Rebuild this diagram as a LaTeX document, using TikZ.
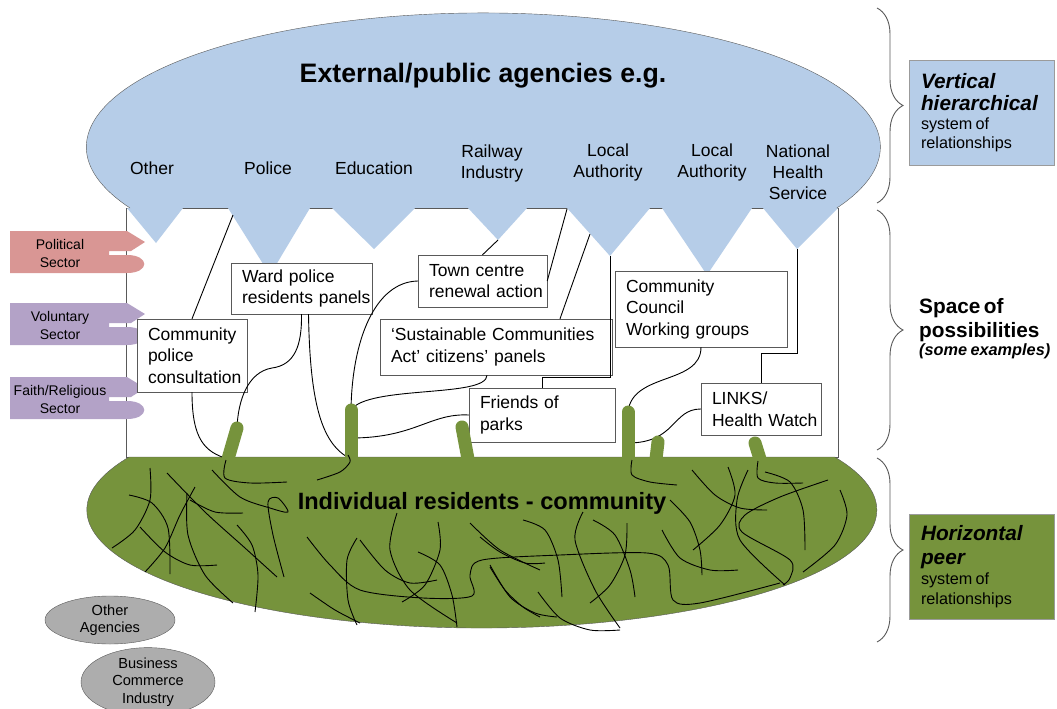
\documentclass[tikz,border=0pt]{standalone}
\usepackage{fontspec}
\setmainfont{Liberation Sans}
\usetikzlibrary{shapes.geometric}
\usetikzlibrary{decorations.pathreplacing}
\definecolor{agencyblue}{HTML}{B6CDE8}
\definecolor{peergreen}{HTML}{76933C}
\definecolor{politicalpink}{HTML}{D99694}
\definecolor{sectorlilac}{HTML}{B3A2C7}
\definecolor{othergrey}{HTML}{ADADAD}
\definecolor{edgegrey}{HTML}{595959}
\hyphenpenalty=10000
\exhyphenpenalty=10000
\hfuzz=50pt

\tikzset{
  panel/.style={draw=edgegrey, fill=white, align=left, inner xsep=11pt, inner ysep=0pt,
    font=\fontsize{17.5}{21.5}\selectfont},
  agency/.style={align=center, inner sep=0pt, font=\fontsize{17.5}{21}\selectfont},
  tagtext/.style={align=center, inner sep=0pt, font=\fontsize{14}{17.5}\selectfont},
  sidebox/.style={draw=edgegrey!60, text width=121pt, inner xsep=12pt, inner ysep=0pt,
    minimum height=105pt, align=left},
  link/.style={black, line width=0.9pt},
  stalk/.style={peergreen, line width=13pt, line cap=round},
  scribble/.style={black, line width=0.9pt},
  bracket/.style={draw=edgegrey, line width=0.9pt, decorate, decoration={brace, amplitude=26pt}},
  othernode/.style={ellipse, draw=edgegrey, fill=othergrey, inner sep=0pt, align=center,
    font=\fontsize{14.6}{17.5}\selectfont}
}

\begin{document}
\begin{tikzpicture}[x=1pt, y=-1pt]
  \useasboundingbox (0,0) rectangle (1057,709);

  % space of possibilities
  \draw[edgegrey, fill=white] (126,208) rectangle (838,457);

  % external agencies with their teeth
  \fill[agencyblue] (130,208) arc[start angle=152.9, end angle=387.1, x radius=397, y radius=134]
    -- (838,208) -- (797,249) -- (763,208) -- (752,208) -- (707,275) -- (662,208) -- (650,208)
    -- (610,256) -- (567,208) -- (527,208) -- (498,240) -- (468,208) -- (415,208) -- (374,249)
    -- (332,208) -- (310,208) -- (270,275) -- (228,208) -- (183,208) -- (156,243) -- (127,208) -- cycle;
  \draw[edgegrey] (130,208) arc[start angle=152.9, end angle=387.1, x radius=397, y radius=134];
  \foreach \a/\b in {183/228, 310/332, 415/468, 527/567, 650/662, 752/763}
    \draw[edgegrey] (\a,208) -- (\b,208);

  \coordinate (policeedge) at (233,215);
  \coordinate (railtip) at (498,240);
  \coordinate (la1edge) at (567,209);
  \coordinate (la1side) at (590,234);
  \coordinate (la1tip) at (610,256);
  \coordinate (nhstip) at (797,249);

  % individual residents
  \filldraw[fill=peergreen, draw=edgegrey] (129,457)
    arc[start angle=206.7, end angle=-26.7, x radius=395, y radius=118] -- cycle;

  % sector tags
  \foreach \y/\c/\t/\n in {231/politicalpink/{Political\\Sector}/political,
                           303/sectorlilac/{Voluntary\\Sector}/voluntary,
                           377/sectorlilac/{Faith/Religious\\Sector}/faith}{
    \fill[\c] (10,\y) -- (127,\y) -- (145,\y+11) -- (131,\y+20) -- (109,\y+20) -- (109,\y+24)
      -- (127,\y+24) .. controls (150,\y+24) and (150,\y+42) .. (127,\y+42) -- (10,\y+42) -- cycle;
    \node[tagtext] (\n) at (60,\y+22.5) {\t};
  }

  % agency names
  \node[font=\fontsize{26.7}{30}\selectfont\bfseries, inner sep=0pt] (external) at (483,76) {External/public agencies e.g.};
  \node[agency] (other) at (152,168) {Other};
  \node[agency] (police) at (268,168) {Police};
  \node[agency] (education) at (374,168) {Education};
  \node[agency] (railway) at (492,163) {Railway\\Industry};
  \node[agency] (localauth) at (608,162) {Local\\Authority};
  \node[agency] (localauthb) at (712,162) {Local\\Authority};
  \node[agency] (nhs) at (798,172) {National\\Health\\Service};

  % examples
  \node[panel, text width=119pt, minimum height=51pt] (ward) at (301.5,288.5) {Ward police\\residents~panels};
  \node[panel, text width=88pt, minimum height=73pt] (cpc) at (192,355.5) {Community\\police\\consultation};
  \node[panel, text width=107pt, minimum height=52pt] (town) at (482.5,281) {Town centre\\renewal~action};
  \node[panel, text width=210pt, minimum height=56pt] (sca) at (496,347) {‘Sustainable Communities\\Act’ citizens’ panels};
  \node[panel, text width=124pt, minimum height=54pt] (parks) at (542,415) {Friends of\\parks};
  \node[panel, text width=150pt, minimum height=76pt] (council) at (701,309) {Community\\Council\\Working groups};
  \node[panel, text width=98pt, minimum height=52pt] (links) at (761,409) {LINKS/\\Health~Watch};

  \coordinate (s1) at (237,428);  \coordinate (s1b) at (228,459);
  \coordinate (s2) at (351,410);  \coordinate (s2b) at (351,459);
  \coordinate (s3) at (462,427);  \coordinate (s3b) at (468,459);
  \coordinate (s4) at (628,412);  \coordinate (s4b) at (628,459);
  \coordinate (s5) at (658,442);  \coordinate (s5b) at (656,459);
  \coordinate (s6) at (755,443);  \coordinate (s6b) at (760,459);
  \coordinate (s2mid) at (351,438);
  \coordinate (s4mid) at (628,443);

  \draw[link] (policeedge) -- (cpc.north);
  \draw[link] (cpc.south) .. controls (192,440) and (205,452) .. (s1b);
  \draw[link] (ward.south) .. controls (302,345) and (295,365) .. (272,368)
    .. controls (248,372) and (238,400) .. (s1);
  \draw[link] ([xshift=7pt]ward.south) .. controls (310,405) and (322,445) .. (s2b);
  \draw[link] (railtip) -- (town.north);
  \draw[link] (town.west) .. controls (375,282) and (352,340) .. (s2);
  \draw[link] (la1edge) -- (town.east);
  \draw[link] (la1side) -- ([xshift=64pt]sca.north);
  \draw[link] ([xshift=-9pt]sca.south) .. controls (487,398) and (368,385) .. (s2);
  \draw[link] (parks.west) .. controls (430,413) and (415,438) .. (s2mid);
  \draw[link] (la1tip) -- ++(0,121) -| (parks.north);
  \draw[link] (nhstip) -- ++(0,104) -| (links.north);
  \draw[link] (council.south) .. controls (701,385) and (632,372) .. (s4);
  \draw[link] (links.west) .. controls (672,409) and (676,443) .. (s4mid);

  \foreach \n in {1,...,6}
    \draw[stalk] (s\n) -- (s\n b);

  % connections between residents
  \draw[scribble] plot[smooth] coordinates {(129,495) (152,503) (168,528) (170,574)};
  \draw[scribble] plot[smooth] coordinates {(150,468) (150,500) (135,530) (112,548)};
  \draw[scribble] plot[smooth] coordinates {(140,527) (165,552) (190,565) (217,565)};
  \draw[scribble] plot[smooth] coordinates {(167,473) (205,512) (245,548) (277,577)};
  \draw[scribble] plot[smooth] coordinates {(195,487) (180,515) (165,548) (145,572)};
  \draw[scribble] plot[smooth] coordinates {(187,493) (188,535) (205,575) (233,603)};
  \draw[scribble] plot[smooth] coordinates {(212,470) (240,497) (270,508) (288,512) (278,498) (268,502) (273,535) (284,577)};
  \draw[scribble] plot[smooth] coordinates {(190,500) (215,512) (243,513)};
  \draw[scribble] plot[smooth] coordinates {(237,525) (252,545) (258,575) (255,612)};
  \draw[scribble] plot[smooth] coordinates {(226,460) (225,478) (250,483) (287,482)};
  \draw[scribble] plot[smooth] coordinates {(317,480) (340,472) (350,462) (348,455)};
  \draw[scribble] plot[smooth] coordinates {(307,537) (330,565) (360,590) (423,598) (472,596) (470,575) (482,560) (560,555) (647,553) (668,565) (673,600) (700,603) (780,583)};
  \draw[scribble] plot[smooth] coordinates {(310,593) (335,610) (360,623)};
  \draw[scribble] plot[smooth] coordinates {(357,538) (347,560) (348,600) (357,625)};
  \draw[scribble] plot[smooth] coordinates {(360,540) (385,570) (410,583) (437,580)};
  \draw[scribble] plot[smooth] coordinates {(397,513) (390,550) (410,590) (457,623)};
  \draw[scribble] plot[smooth] coordinates {(438,522) (440,550) (425,585) (402,602)};
  \draw[scribble] plot[smooth] coordinates {(418,552) (440,565) (452,595) (457,627)};
  \draw[scribble] plot[smooth] coordinates {(470,523) (500,550) (540,570)};
  \draw[scribble] plot[smooth] coordinates {(490,567) (505,590) (523,607) (540,617)};
  \draw[scribble] plot[smooth] coordinates {(480,537) (500,552) (525,563) (545,563)};
  \draw[scribble] plot[smooth] coordinates {(490,565) (510,597) (535,613) (557,617)};
  \draw[scribble] plot[smooth] coordinates {(523,520) (545,530) (558,560) (562,597)};
  \draw[scribble] plot[smooth] coordinates {(538,592) (560,618) (590,630) (620,630)};
  \draw[scribble] plot[smooth] coordinates {(583,512) (575,540) (595,590) (620,628)};
  \draw[scribble] plot[smooth] coordinates {(593,520) (615,535) (630,570) (635,597)};
  \draw[scribble] plot[smooth] coordinates {(627,523) (625,555) (610,585) (590,603)};
  \draw[scribble] plot[smooth] coordinates {(632,460) (632,475) (650,482) (677,485)};
  \draw[scribble] plot[smooth] coordinates {(662,530) (680,558) (710,570) (738,570)};
  \draw[scribble] plot[smooth] coordinates {(670,500) (690,522) (700,550) (702,575)};
  \draw[scribble] plot[smooth] coordinates {(692,470) (715,495) (740,508) (767,510)};
  \draw[scribble] plot[smooth] coordinates {(728,467) (735,495) (720,525) (693,550)};
  \draw[scribble] plot[smooth] coordinates {(748,470) (737,500) (740,540) (785,585)};
  \draw[scribble] plot[smooth] coordinates {(758,461) (758,478) (775,483) (803,483)};
  \draw[scribble] plot[smooth] coordinates {(765,472) (790,482) (803,510) (805,550)};
  \draw[scribble] plot[smooth] coordinates {(828,480) (780,497) (745,515) (742,532) (790,560) (790,578) (783,585)};
  \draw[scribble] plot[smooth] coordinates {(840,490) (847,515) (835,545) (803,572)};

  \node[font=\fontsize{23.6}{28}\selectfont\bfseries, inner sep=0pt] (residents) at (482,503) {Individual residents - community};

  % other agencies
  \node[othernode, minimum width=130pt, minimum height=48pt] (otheragencies) at (110,620) {Other\\Agencies};
  \node[othernode, minimum width=134pt, minimum height=66pt] (business) at (148,682) {Business\\Commerce\\Industry};

  % systems of relationships
  \draw[bracket] (877,8) -- (877,203);
  \draw[bracket] (877,210) -- (877,450);
  \draw[bracket] (877,458) -- (877,642);

  \node[sidebox, fill=agencyblue] (vertical) at (981.5,112.5)
    {{\fontsize{20.8}{22}\selectfont\bfseries\itshape Vertical\\hierarchical\par}
     {\fontsize{16.2}{19}\selectfont system of\\relationships\par}};
  \node[anchor=west, text width=140pt, inner sep=0pt, align=left] (space) at (919,329)
    {{\fontsize{20.8}{24}\selectfont\bfseries Space of\\possibilities\par}
     {\fontsize{16.3}{18}\selectfont\bfseries\itshape (some examples)\par}};
  \node[sidebox, fill=peergreen] (horizontal) at (981.5,566.5)
    {{\fontsize{20.8}{24}\selectfont\bfseries\itshape Horizontal\\peer\par}
     {\fontsize{16.2}{20}\selectfont system of\\relationships\par}};
\end{tikzpicture}
\end{document}
